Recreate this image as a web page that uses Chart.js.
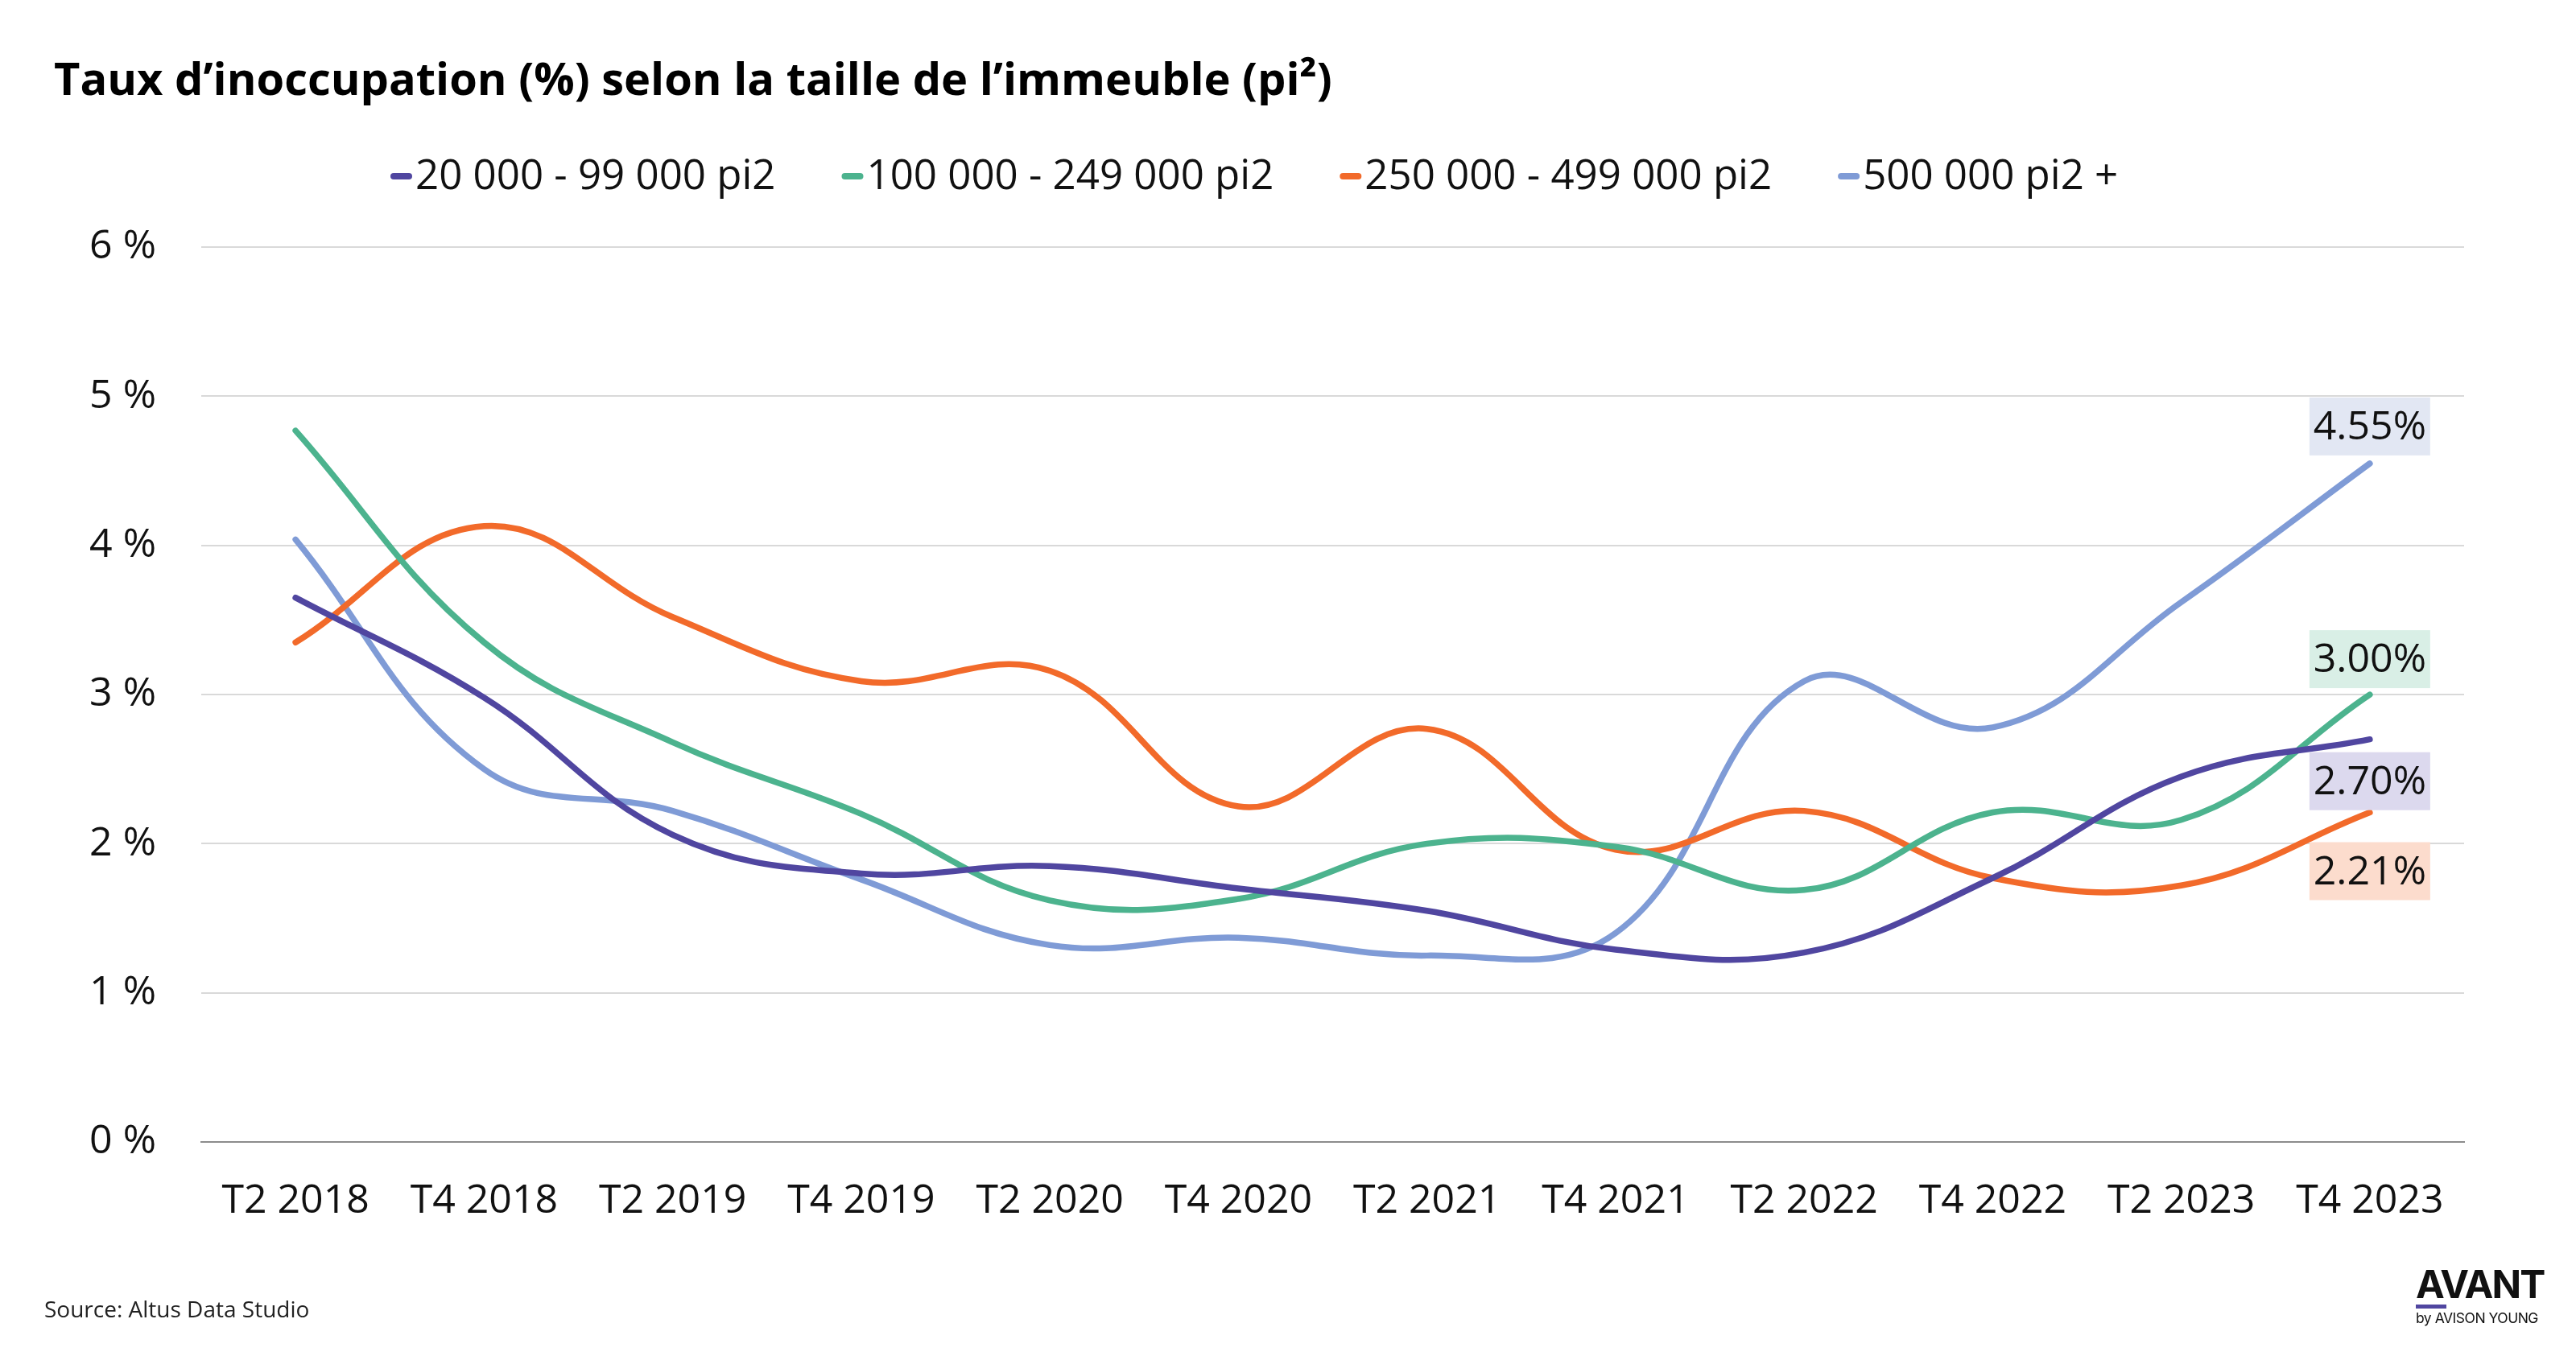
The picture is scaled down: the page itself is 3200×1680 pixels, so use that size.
<!DOCTYPE html>
<html lang="fr">
<head>
<meta charset="utf-8">
<title>Taux d'inoccupation selon la taille de l'immeuble</title>
<script src="https://cdn.jsdelivr.net/npm/chart.js@4.4.1/dist/chart.umd.min.js"></script>
<style>
  html, body { margin: 0; padding: 0; background: #fff; }
  #cadre { position: relative; width: 3200px; height: 1680px; overflow: hidden; }
  #graphique { position: absolute; left: 0; top: 0; }
  .source { position: absolute; left: 55px; top: 1607px; font: 28px "Open Sans", sans-serif; color: #222; }
  .logo { position: absolute; left: 3001px; top: 1574px; width: 170px; font-family: Inter, "Liberation Sans", sans-serif; color: #111; }
  .logo .nom { font-size: 48px; font-weight: 700; line-height: 44px; letter-spacing: -1.8px; }
  .logo .barre { width: 38px; height: 5px; background: #5046a0; margin-top: 3px; }
  .logo .par { font-size: 17.5px; line-height: 24px; letter-spacing: -0.5px; }
</style>
</head>
<body>
<div id="cadre">
  <canvas id="graphique" width="3200" height="1680"></canvas>
  <div class="source">Source: Altus Data Studio</div>
  <div class="logo"><div class="nom">AVANT</div><div class="barre"></div><div class="par">by AVISON YOUNG</div></div>
</div>
<script>
// Donnees (taux d'inoccupation en %)
const trimestres = ["T2 2018", "T4 2018", "T2 2019", "T4 2019", "T2 2020", "T4 2020",
                    "T2 2021", "T4 2021", "T2 2022", "T4 2022", "T2 2023", "T4 2023"];
const series = ["20 000 - 99 000 pi2", "100 000 - 249 000 pi2", "250 000 - 499 000 pi2", "500 000 pi2 +"];
const taux20k  = [3.65, 2.98, 2.06, 1.80, 1.85, 1.70, 1.55, 1.29, 1.27, 1.77, 2.45, 2.70];
const taux100k = [4.77, 3.35, 2.68, 2.20, 1.62, 1.63, 2.00, 1.98, 1.69, 2.21, 2.16, 3.00];
const taux250k = [3.35, 4.13, 3.52, 3.09, 3.16, 2.25, 2.77, 1.96, 2.22, 1.77, 1.72, 2.21];
const taux500k = [4.04, 2.50, 2.22, 1.76, 1.32, 1.37, 1.25, 1.40, 3.09, 2.78, 3.62, 4.55];
const graduations = [0, 1, 2, 3, 4, 5, 6];

const couleurs = ["#5046a0", "#4cb38e", "#f26a2a", "#7f9bd6"];
const fonds = ["#dcd9ee", "#d9efe6", "#fcdccd", "#e2e7f3"];
// position de l'etiquette de fin : au-dessus ou en dessous du dernier point
const etiquettes = [
  { pos: "dessous", ecart: 16 },
  { pos: "dessus", ecart: 8 },
  { pos: "dessous", ecart: 37 },
  { pos: "dessus", ecart: 10 }
];

const police = '"Open Sans", sans-serif';

// Legende dessinee a la main (trait court colle au texte)
const legendePerso = {
  id: "legendePerso",
  afterDraw(chart) {
    const ctx = chart.ctx;
    ctx.save();
    ctx.font = "51px " + police;
    ctx.textBaseline = "middle";
    let x = 485;
    const y = 219;
    chart.data.datasets.forEach((ds) => {
      ctx.strokeStyle = ds.borderColor;
      ctx.lineWidth = 8;
      ctx.lineCap = "round";
      ctx.beginPath();
      ctx.moveTo(x + 4, y);
      ctx.lineTo(x + 23, y);
      ctx.stroke();
      ctx.fillStyle = "#111";
      ctx.fillText(ds.label, x + 31, y + 1);
      x += 31 + ctx.measureText(ds.label).width + 82;
    });
    ctx.restore();
  }
};

// Etiquettes de valeur sur le dernier point de chaque serie
const etiquettesFin = {
  id: "etiquettesFin",
  afterDatasetsDraw(chart) {
    const ctx = chart.ctx;
    ctx.save();
    ctx.font = "50px " + police;
    ctx.textAlign = "center";
    ctx.textBaseline = "middle";
    chart.data.datasets.forEach((ds, i) => {
      const meta = chart.getDatasetMeta(i);
      const dernier = meta.data[meta.data.length - 1];
      const valeur = ds.data[ds.data.length - 1];
      const texte = valeur.toFixed(2) + "%";
      const l = 150, h = 72;
      const conf = etiquettes[i];
      const haut = conf.pos === "dessus" ? dernier.y - conf.ecart - h : dernier.y + conf.ecart;
      ctx.fillStyle = fonds[i];
      ctx.fillRect(dernier.x - l / 2, haut, l, h);
      ctx.fillStyle = "#111";
      ctx.fillText(texte, dernier.x, haut + h / 2 + 2);
    });
    ctx.restore();
  }
};

const donnees = [taux20k, taux100k, taux250k, taux500k];

new Chart(document.getElementById("graphique"), {
  type: "line",
  data: {
    labels: trimestres,
    datasets: donnees.map((valeurs, i) => ({
      label: series[i],
      data: valeurs,
      borderColor: couleurs[i],
      backgroundColor: couleurs[i],
      borderWidth: 7.5,
      borderCapStyle: "round",
      borderJoinStyle: "round",
      tension: 0.4,
      pointRadius: 0,
      fill: false
    }))
  },
  options: {
    responsive: false,
    devicePixelRatio: 1,
    animation: false,
    layout: { padding: { left: 67, right: 139, top: 0, bottom: 121 } },
    plugins: {
      legend: { display: false },
      tooltip: { enabled: false },
      title: {
        display: true,
        text: "Taux d\u2019inoccupation (%) selon la taille de l\u2019immeuble (pi\u00b2)",
        align: "start",
        color: "#000",
        font: { family: police, size: 56, weight: "bold" },
        padding: { top: 68, bottom: 172 }
      }
    },
    scales: {
      x: {
        offset: true,
        grid: { display: false, drawTicks: false },
        border: { display: true, color: "#8c8c8c", width: 2 },
        ticks: { color: "#111", font: { family: police, size: 50 }, padding: 44, maxRotation: 0 },
        afterFit(scale) { scale.height = 140; }
      },
      y: {
        min: graduations[0],
        max: graduations[graduations.length - 1],
        grid: { color: "#d9d9d9", lineWidth: 2, drawTicks: false },
        border: { display: false },
        ticks: {
          stepSize: 1,
          color: "#111",
          font: { family: police, size: 50 },
          padding: 56,
          callback: (v) => v + " %"
        },
        afterFit(scale) { scale.width = 183; }
      }
    }
  },
  plugins: [legendePerso, etiquettesFin]
});
</script>
</body>
</html>
